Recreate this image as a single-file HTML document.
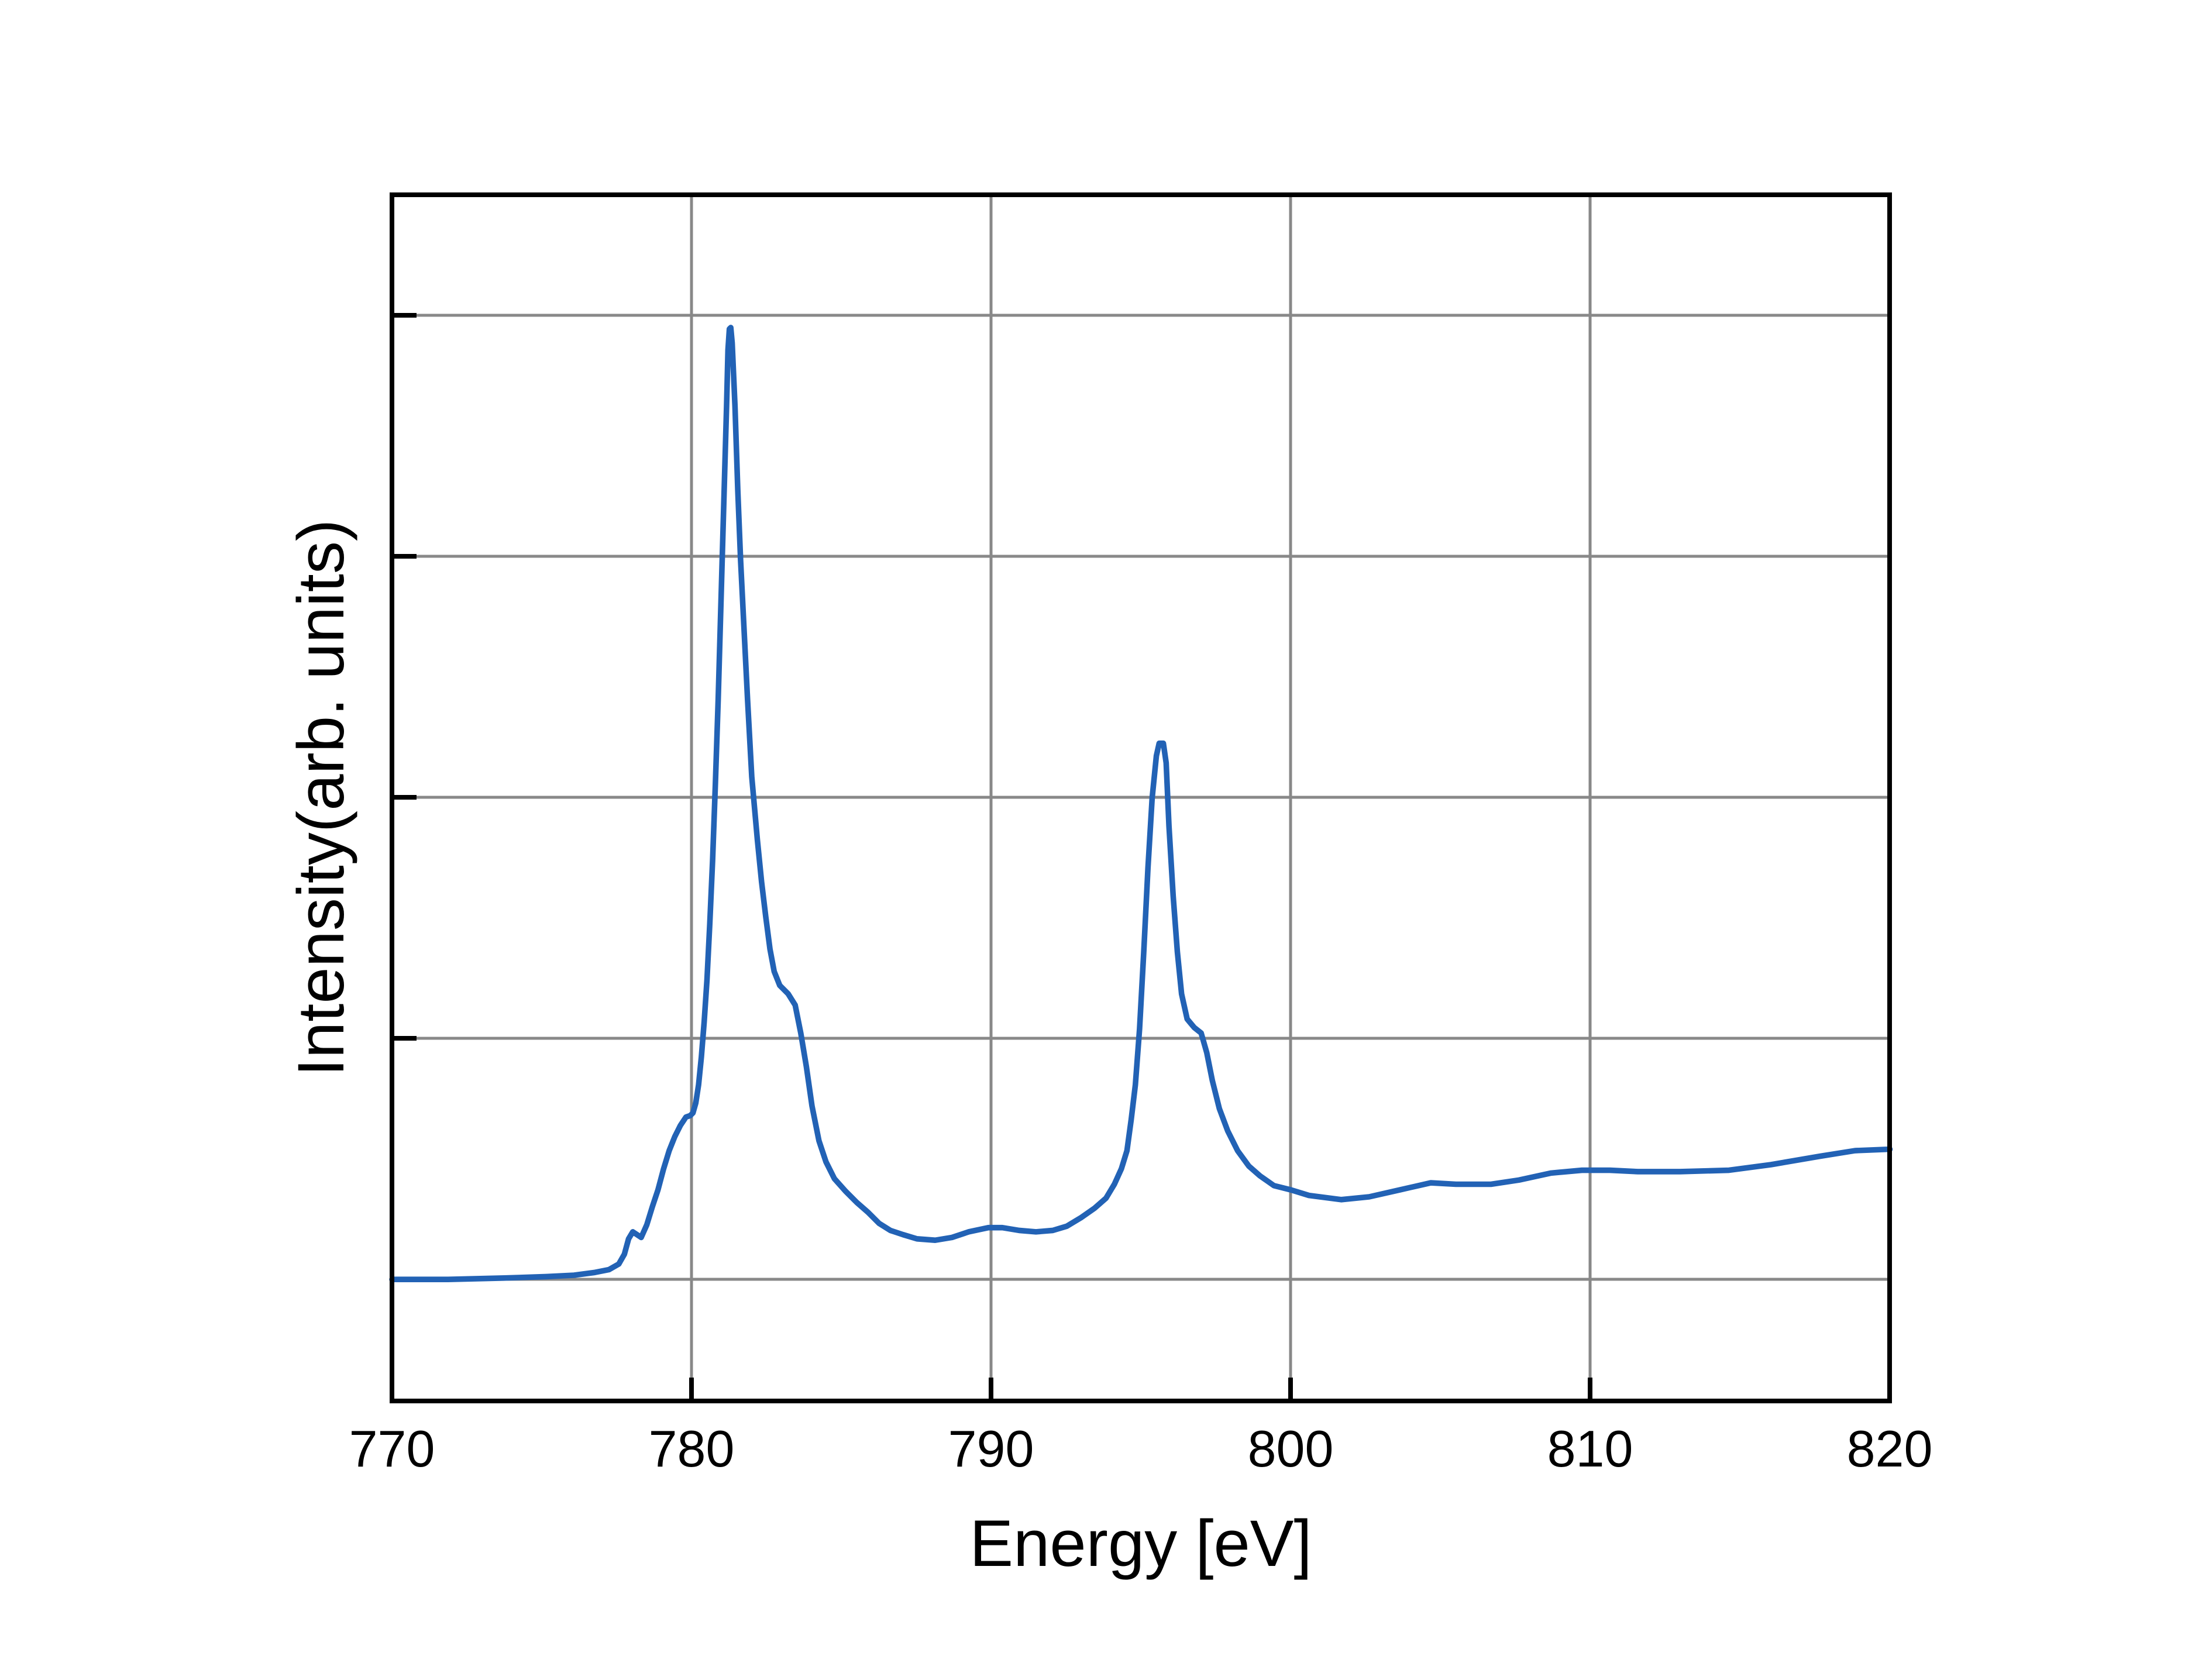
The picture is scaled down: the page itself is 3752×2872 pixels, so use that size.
<!DOCTYPE html>
<html><head><meta charset="utf-8"><style>html,body{margin:0;padding:0;background:#fff}svg{display:block}</style></head>
<body>
<svg width="3752" height="2872" viewBox="0 0 3752 2872" xmlns="http://www.w3.org/2000/svg">
<rect width="3752" height="2872" fill="#fff"/>
<g stroke="#888" stroke-width="5">
<line x1="1182" y1="337" x2="1182" y2="2391"/>
<line x1="1694" y1="337" x2="1694" y2="2391"/>
<line x1="2206" y1="337" x2="2206" y2="2391"/>
<line x1="2718" y1="337" x2="2718" y2="2391"/>
<line x1="674" y1="539" x2="3226" y2="539"/>
<line x1="674" y1="951" x2="3226" y2="951"/>
<line x1="674" y1="1363" x2="3226" y2="1363"/>
<line x1="674" y1="1775" x2="3226" y2="1775"/>
<line x1="674" y1="2187" x2="3226" y2="2187"/>
</g>
<g stroke="#000" stroke-width="8">
<line x1="674" y1="539" x2="712" y2="539"/>
<line x1="674" y1="951" x2="712" y2="951"/>
<line x1="674" y1="1363" x2="712" y2="1363"/>
<line x1="674" y1="1775" x2="712" y2="1775"/>
<line x1="674" y1="2187" x2="712" y2="2187"/>
<line x1="1182" y1="2391" x2="1182" y2="2355"/>
<line x1="1694" y1="2391" x2="1694" y2="2355"/>
<line x1="2206" y1="2391" x2="2206" y2="2355"/>
<line x1="2718" y1="2391" x2="2718" y2="2355"/>
</g>
<g transform="scale(2.393)">
<polyline fill="none" stroke="#2262b5" stroke-width="4" stroke-linejoin="round" stroke-linecap="round" points="280,914 320,914 360,913 390,912 410,911 425,909 435,907 442,903 446,896 449,885 452,880 455,882 458,884 462,875 466,862 470,850 474,835 478,822 482,812 486,804 490,798 493,797 495,795 497,788 499,775 501,755 503,730 505,700 507,660 509,615 511,560 513,500 515,430 517,360 519,290 520,250 521,235 522,234 523,245 525,290 527,350 529,400 531,440 534,500 537,555 541,600 544,630 547,655 550,678 553,694 557,704 563,710 568,718 572,738 576,762 580,790 585,815 590,830 596,842 604,851 612,859 620,866 628,874 636,879 645,882 655,885 668,886 680,884 692,880 706,877 716,877 728,879 740,880 752,879 762,876 772,870 782,863 790,856 796,846 801,835 805,822 808,800 811,775 814,735 817,680 820,620 823,570 826,540 828,531 831,531 833,545 835,590 838,640 841,680 844,710 848,728 853,734 858,738 862,752 866,772 871,792 877,808 884,822 892,833 900,840 910,847 922,850 935,854 958,857 978,855 1000,850 1022,845 1040,846 1065,846 1085,843 1108,838 1130,836 1150,836 1170,837 1200,837 1235,836 1265,832 1300,826 1325,822 1350,821"/>
</g>
<rect x="670" y="333" width="2560" height="2062" fill="none" stroke="#000" stroke-width="8"/>
<g font-family="Liberation Sans, Arial, sans-serif" font-size="88" text-anchor="middle" fill="#000">
<text x="670" y="2507">770</text>
<text x="1182" y="2507">780</text>
<text x="1694" y="2507">790</text>
<text x="2206" y="2507">800</text>
<text x="2718" y="2507">810</text>
<text x="3230" y="2507">820</text>
<text x="1950" y="2677" font-size="112">Energy [eV]</text>
<text transform="translate(587,1364) rotate(-90)" font-size="112">Intensity(arb. units)</text>
</g>
</svg>
</body></html>
